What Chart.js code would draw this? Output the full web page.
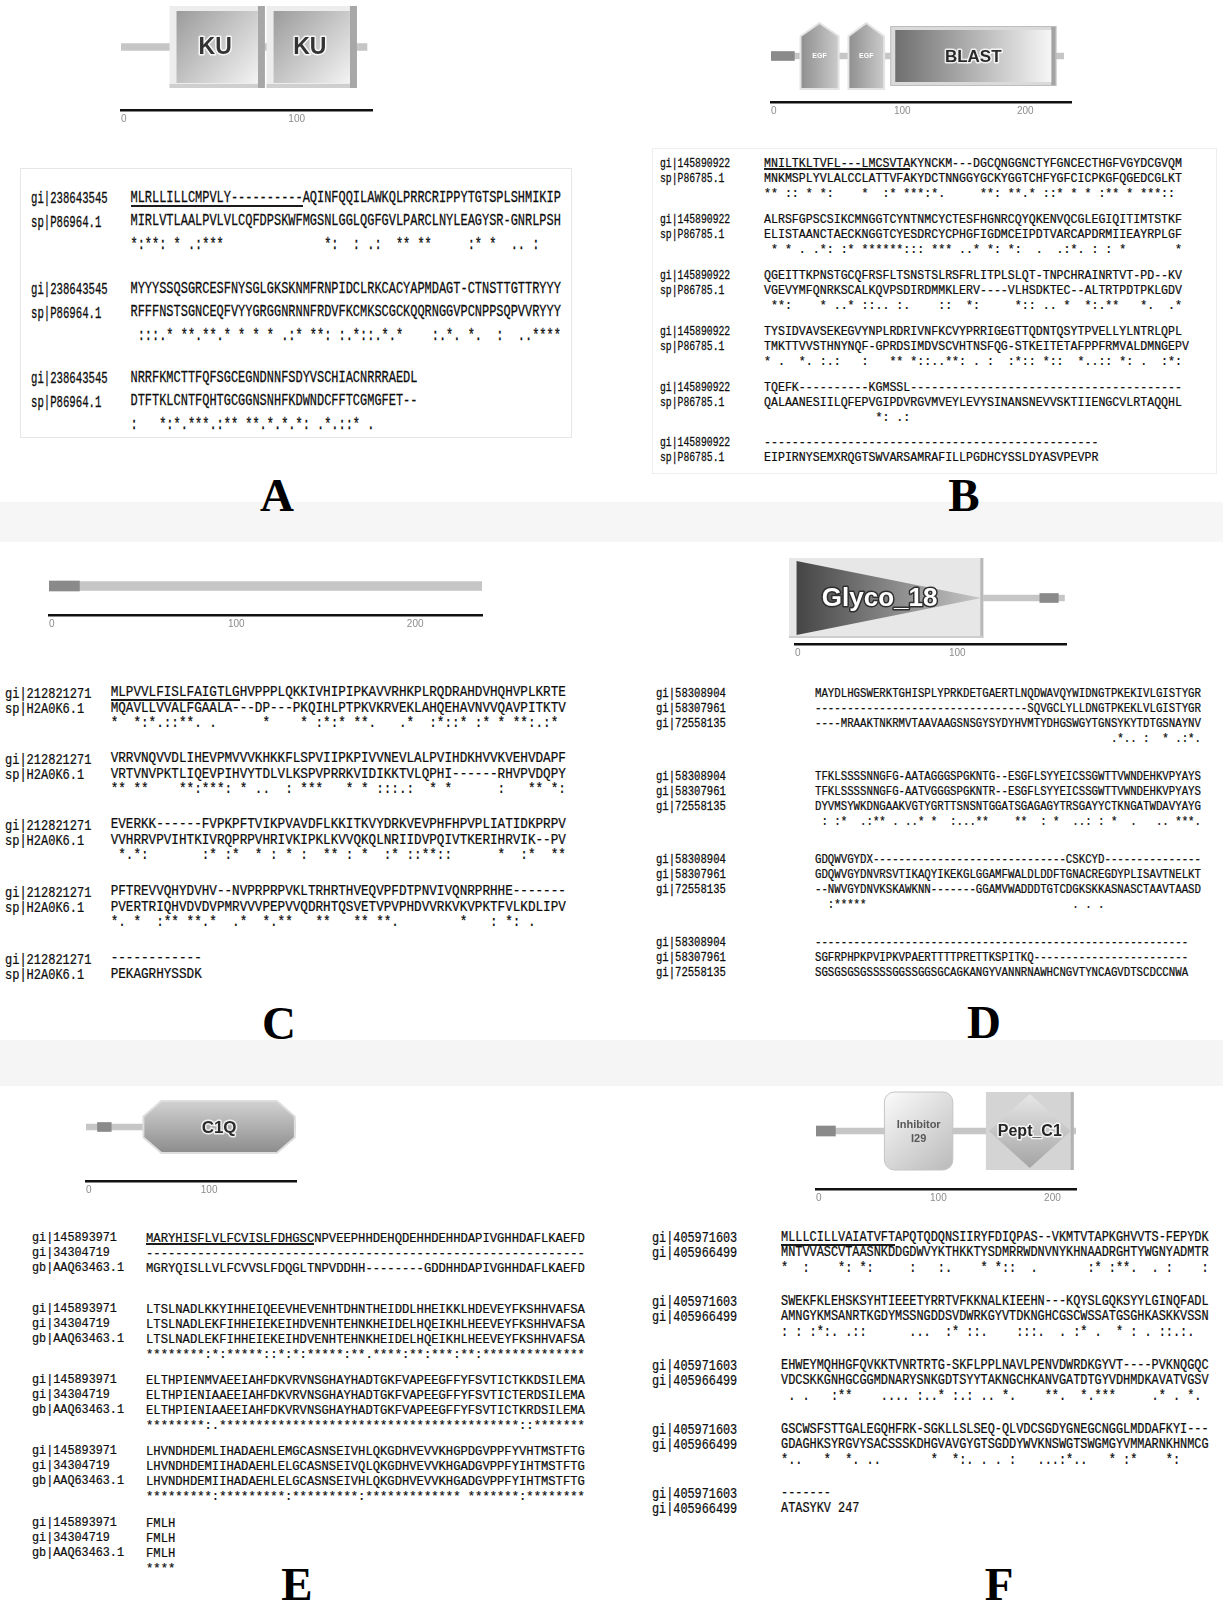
<!DOCTYPE html>
<html lang="en">
<head>
<meta charset="utf-8">
<title>Domain architectures and sequence alignments</title>
<script src="https://cdn.jsdelivr.net/npm/chart.js@4.4.1/dist/chart.umd.min.js"></script>
<style>
  html, body { margin: 0; padding: 0; background: #fff; }
  #page { position: relative; width: 1223px; height: 1608px; overflow: hidden; background: #fff; }
  .t { position: absolute; white-space: pre; font-family: "Liberation Mono", "DejaVu Sans Mono", monospace; color: #0c0c0c; -webkit-text-stroke: 0.2px #0c0c0c; }
  .ul { position: absolute; background: #1b1b1b; }
  .lab { position: absolute; font-family: "Liberation Serif", serif; font-weight: bold; font-size: 47px; line-height: 1; color: #000; transform: translate(-50%, -50%); }
  .bg { position: absolute; box-sizing: border-box; }
  canvas.arch { position: absolute; }
</style>
</head>
<body>
<div id="page"></div>
<script>
// ---------------- Domain architectures (residue coordinates) ----------------
const archIds = ['A', 'B', 'C', 'D', 'E', 'F'];
const archLengths = [147, 238, 242, 175, 183, 228];
const axisMaxima = [150, 244, 242, 176, 183, 228];
const scaleTicks = [0, 100, 200];
const darkSegments = [null, [0, 19], [0, 17], [159, 171], [10, 22], [0, 17]];
const domainsA = [['KU', 29, 86], ['KU', 87, 141]];
const domainsB = [['EGF', 24, 55], ['EGF', 63, 92], ['BLAST', 97, 232]];
const domainsC = [];
const domainsD = [['Glyco_18', 1, 121]];
const domainsE = [['C1Q', 50, 182]];
const domainsF = [['Inhibitor I29', 60, 120], ['Pept_C1', 149, 226]];
const archDomains = [domainsA, domainsB, domainsC, domainsD, domainsE, domainsF];

// ---------------- Alignments ----------------
const namesA = ['gi|238643545', 'sp|P86964.1'];
const blocksA = [
  ['MLRLLILLCMPVLY----------AQINFQQILAWKQLPRRCRIPPYTGTSPLSHMIKIP',
   'MIRLVTLAALPVLVLCQFDPSKWFMGSNLGGLQGFGVLPARCLNYLEAGYSR-GNRLPSH',
   '*:**: * .:***' + ' '.repeat(14) + '*:  : .:  ** **     :* *  .. :'],
  ['MYYYSSQSGRCESFNYSGLGKSKNMFRNPIDCLRKCACYAPMDAGT-CTNSTTGTTRYYY',
   'RFFFNSTSGNCEQFVYYGRGGNRNNFRDVFKCMKSCGCKQQRNGGVPCNPPSQPVVRYYY',
   ' :::.* **.' + '**.* * * *' + ' .:* **: :' + '.*::.*.*  ' + '  :.*. *. ' + ' :  ..****'],
  ['NRRFKMCTTFQFSGCEGNDNNFSDYVSCHIACNRRRAEDL',
   'DTFTKLCNTFQHTGCGGNSNHFKDWNDCFFTCGMGFET--',
   ':   *:*.**' + '*.:** **.*' + '.*.*: .*.:' + ':* .']
];

const namesB = ['gi|145890922', 'sp|P86785.1'];
const blocksB = [
  ['MNILTKLTVFL---LMCSVTAKYNCKM---DGCQNGGNCTYFGNCECTHGFVGYDCGVQM',
   'MNKMSPLYVLALCCLATTVFAKYDCTNNGGYGCKYGGTCHFYGFCICPKGFQGEDCGLKT',
   '** :: * *:' + '    *  :* ' + '***:*.    ' + ' **: **.* ' + '::* * * :*' + '* * ***::'],
  ['ALRSFGPSCSIKCMNGGTCYNTNMCYCTESFHGNRCQYQKENVQCGLEGIQITIMTSTKF',
   'ELISTAANCTAECKNGGTCYESDRCYCPHGFIGDMCEIPDTVARCAPDRMIIEAYRPLGF',
   ' * * . .*:' + ' :* ******' + '::: *** ..' + '* *: *:  .' + '  .:*. : :' + ' *       *'],
  ['QGEITTKPNSTGCQFRSFLTSNSTSLRSFRLITPLSLQT-TNPCHRAINRTVT-PD--KV',
   'VGEVYMFQNRKSCALKQVPSDIRDMMKLERV----VLHSDKTEC--ALTRTPDTPKLGDV',
   ' **:    * ' + '..* ::.. :' + '.    ::  *' + ':     *:: ' + '.. *  *:.*' + '*   *.  .*'],
  ['TYSIDVAVSEKEGVYNPLRDRIVNFKCVYPRRIGEGTTQDNTQSYTPVELLYLNTRLQPL',
   'TMKTTVVSTHNYNQF-GPRDSIMDVSCVHTNSFQG-STKEITETAFPPFRMVALDMNGEPV',
   '* .  *. :.' + ':   :   **' + ' *::..**: ' + '. :  :*:: ' + '*::  *..::' + ' *: .  :*:'],
  ['TQEFK' + '-'.repeat(10) + 'KGMSSL' + '-'.repeat(39),
   'QALAANESIILQFEPVGIPDVRGVMVEYLEVYSINANSNEVVSKTIIENGCVLRTAQQHL',
   ' '.repeat(16) + '*: .:'],
  ['-'.repeat(48),
   'EIPIRNYSEMXRQGTSWVARSAMRAFILLPGDHCYSSLDYASVPEVPR']
];

const namesC = ['gi|212821271', 'sp|H2A0K6.1'];
const blocksC = [
  ['MLPVVLFISLFAIGTLGHVPPPLQKKIVHIPIPKAVVRHKPLRQDRAHDVHQHVPLKRTE',
   'MQAVLLVVALFGAALA---DP---PKQIHLPTPKVKRVEKLAHQEHAVNVVQAVPITKTV',
   '*  *:*.::*' + '*. .      ' + '*    * :*:' + '* **.   .*' + '  :*::* :*' + ' * **:.:*'],
  ['VRRVNQVVDLIHEVPMVVVKHKKFLSPVIIPKPIVVNEVLALPVIHDKHVVKVEHVDAPF',
   'VRTVNVPKTLIQEVPIHVYTDLVLKSPVPRRKVIDIKKTVLQPHI------RHVPVDQPY',
   '** **    *' + '*:***: * .' + '.  : ***  ' + ' * * :::.:' + '  * *     ' + ' :   ** *:'],
  ['EVERKK------FVPKPFTVIKPVAVDFLKKITKVYDRKVEVPHFHPVPLIATIDKPRPV',
   'VVHRRVPVIHTKIVRQPRPVHRIVKIPKLKVVQKQLNRIIDVPQIVTKERIHRVIK--PV',
   ' *.*:     ' + '  :* :*  *' + ' : * :  **' + ' : *  :* :' + ':**::     ' + ' *  :*  **'],
  ['PFTREVVQHYDVHV--NVPRPRPVKLTRHRTHVEQVPFDTPNVIVQNRPRHHE-------',
   'PVERTRIQHVDVDVPMRVVVPEPVVQDRHTQSVETVPVPHDVVRKVKVPKTFVLKDLIPV',
   '*. *  :** ' + '**.*  .*  ' + '*.**   ** ' + '  ** **.  ' + '      *   ' + ': *: .'],
  ['-'.repeat(12),
   'PEKAGRHYSSDK']
];

const namesD = ['gi|58308904', 'gi|58307961', 'gi|72558135'];
const blocksD = [
  ['MAYDLHGSWERKTGHISPLYPRKDETGAERTLNQDWAVQYWIDNGTPKEKIVLGISTYGR',
   '-'.repeat(33) + 'SQVGCLYLLDNGTPKEKLVLGISTYGR',
   '----MRAAKTNKRMVTAAVAAGSNSGYSYDYHVMTYDHGSWGYTGNSYKYTDTGSNAYNV',
   ' '.repeat(46) + '.*.. :  * .:*.'],
  ['TFKLSSSSNNGFG-AATAGGGSPGKNTG--ESGFLSYYEICSSGWTTVWNDEHKVPYAYS',
   'TFKLSSSSNNGFG-AATVGGGSPGKNTR--ESGFLSYYEICSSGWTTVWNDEHKVPYAYS',
   'DYVMSYWKDNGAAKVGTYGRTTSNSNTGGATSGAGAGYTRSGAYYCTKNGATWDAVYAYG',
   ' : :*  .:*' + '* . ..* * ' + ' :...**   ' + ' **  : *  ' + '..: : *  .' + '   .. ***.'],
  ['GDQWVGYDX' + '-'.repeat(30) + 'CSKCYD' + '-'.repeat(15),
   'GDQWVGYDNVRSVTIKAQYIKEKGLGGAMFWALDLDDFTGNACREGDYPLISAVTNELKT',
   '--NWVGYDNVKSKAWKNN-------GGAMVWADDDTGTCDGKSKKASNASCTAAVTAASD',
   '  :*****' + ' '.repeat(32) + '. . .'],
  ['-'.repeat(58),
   'SGFRPHPKPVIPKVPAERTTTTPRETTKSPITKQ' + '-'.repeat(24),
   'SGSGSGSGSSSSGGSSGGSGCAGKANGYVANNRNAWHCNGVTYNCAGVDTSCDCCNWA']
];

const namesE = ['gi|145893971', 'gi|34304719', 'gb|AAQ63463.1'];
const blocksE = [
  ['MARYHISFLVLFCVISLFDHGSCNPVEEPHHDEHQDEHHDEHHDAPIVGHHDAFLKAEFD',
   '-'.repeat(60),
   'MGRYQISLLVLFCVVSLFDQGLTNPVDDHH--------GDDHHDAPIVGHHDAFLKAEFD',
   ''],
  ['LTSLNADLKKYIHHEIQEEVHEVENHTDHNTHEIDDLHHEIKKLHDEVEYFKSHHVAFSA',
   'LTSLNADLEKFIHHEIEKEIHDVENHTEHNKHEIDELHQEIKHLHEEVEYFKSHHVAFSA',
   'LTSLNADLEKFIHHEIEKEIHDVENHTEHNKHEIDELHQEIKHLHEEVEYFKSHHVAFSA',
   '********' + ':*:' + '*****' + '::' + '*:*:' + '*****' + ':' + '**' + '.' + '****' + ':' + '**' + ':' + '***' + ':' + '**' + ':' + '*'.repeat(14)],
  ['ELTHPIENMVAEEIAHFDKVRVNSGHAYHADTGKFVAPEEGFFYFSVTICTKKDSILEMA',
   'ELTHPIENIAAEEIAHFDKVRVNSGHAYHADTGKFVAPEEGFFYFSVTICTERDSILEMA',
   'ELTHPIENIAAEEIAHFDKVRVNSGHAYHADTGKFVAPEEGFFYFSVTICTKRDSILEMA',
   '********:.' + '*'.repeat(41) + '::' + '*'.repeat(7)],
  ['LHVNDHDEMLIHADAEHLEMGCASNSEIVHLQKGDHVEVVKHGPDGVPPFYVHTMSTFTG',
   'LHVNDHDEMIIHADAEHLELGCASNSEIVQLQKGDHVEVVKHGADGVPPFYIHTMSTFTG',
   'LHVNDHDEMIIHADAEHLELGCASNSEIVHLQKGDHVEVVKHGADGVPPFYIHTMSTFTG',
   '*********:' + '*********:' + '*********:' + '*************' + ' ' + '*******' + ':' + '********'],
  ['FMLH', 'FMLH', 'FMLH', '****']
];

const namesF = ['gi|405971603', 'gi|405966499'];
const blocksF = [
  ['MLLLCILLVAIATVFTAPQTQDQNSIIRYFDIQPAS--VKMTVTAPKGHVVTS-FEPYDK',
   'MNTVVASCVTAASNKDDGDWVYKTHKKTYSDMRRWDNVNYKHNAADRGHTYWGNYADMTR',
   '*  :    *:' + ' *:     : ' + '  :.    * ' + '*::  .    ' + '   :* :**.' + '  . :    :'],
  ['SWEKFKLEHSKSYHTIEEETYRRTVFKKNALKIEEHN---KQYSLGQKSYYLGINQFADL',
   'AMNGYKMSANRTKGDYMSSNGDDSVDWRKGYVTDKNGHCGSCWSSATGSGHKASKKVSSN',
   ': : :*:. .' + '::      ..' + '.  :* ::. ' + '   :::.  .' + ' :* .  * :' + ' . ::.:.'],
  ['EHWEYMQHHGFQVKKTVNRTRTG-SKFLPPLNAVLPENVDWRDKGYVT----PVKNQGQC',
   'VDCSKKGNHGCGGMDNARYSNKGDTSYYTAKNGCHKANVGATDTGYVDHMDKAVATVGSV',
   ' . .   :**' + '    .... :' + '..* :.: ..' + ' *.    **.' + '  *.***   ' + '  .* . *.'],
  ['GSCWSFSTTGALEGQHFRK-SGKLLSLSEQ-QLVDCSGDYGNEGCNGGLMDDAFKYI---',
   'GDAGHKSYRGVYSACSSSKDHGVAVGYGTSGDDYWVKNSWGTSWGMGYVMMARNKHNMCG',
   '*..   *  *' + '. ..      ' + ' *  *:. . ' + '. :   ...:' + '*..   * :*' + '    *:'],
  ['-'.repeat(7), 'ATASYKV 247']
];

const panelLetters = ['A', 'B', 'C', 'D', 'E', 'F'];

// ---------------- Layout (pixels) ----------------
const archLayout = [
  { x0: 121, ppa: 1.67, y0: 47,   yAxis: 110,  bbH: 7, segH: 10, domH: { KU: 82 } },
  { x0: 771, ppa: 1.23, y0: 56,   yAxis: 102,  bbH: 6, segH: 9,  domH: { EGF: 66, BLAST: 60 } },
  { x0: 49,  ppa: 1.79, y0: 586,  yAxis: 615,  bbH: 9, segH: 10, domH: {} },
  { x0: 795, ppa: 1.54, y0: 598,  yAxis: 644,  bbH: 6, segH: 9,  domH: { Glyco_18: 74 } },
  { x0: 86,  ppa: 1.15, y0: 1127, yAxis: 1181, bbH: 6, segH: 9,  domH: { C1Q: 52 } },
  { x0: 816, ppa: 1.14, y0: 1131, yAxis: 1189, bbH: 6, segH: 10, domH: { 'Inhibitor I29': 78, Pept_C1: 78 } }
];

const alnLayout = [
  { nameX: 31,  nameAdv: 6.4,  seqX: 130.5, adv: 7.18, capH: 11.0, rows: [0, 23.5, 47],    blocks: [198, 289, 378], underline: 24 },
  { nameX: 660, nameAdv: 5.85, seqX: 764,   adv: 6.97, capH: 8.4,  rows: [0, 15, 30],      blocks: [163, 219, 275, 331, 387, 442], underline: 21 },
  { nameX: 5,   nameAdv: 7.2,  seqX: 110.7, adv: 7.59, capH: 9.3,  rows: [0, 15.5, 31],    blocks: [693, 759, 825, 892, 959], underline: 17 },
  { nameX: 656, nameAdv: 6.35, seqX: 815,   adv: 6.44, capH: 8.8,  rows: [0, 15, 30, 45],  blocks: [693, 776, 859, 942], underline: 0 },
  { nameX: 32,  nameAdv: 7.08, seqX: 146,   adv: 7.32, capH: 8.6,  rows: [0, 15, 30, 45],  blocks: [1238, 1309, 1380, 1451, 1523], underline: 23 },
  { nameX: 652, nameAdv: 7.1,  seqX: 781,   adv: 7.13, capH: 9.2,  rows: [0, 15.5, 31],    blocks: [1238, 1302, 1366, 1430, 1494], underline: 16 }
];
const letterPos = [[277, 495], [964, 495], [279, 1023], [984, 1022], [297, 1584], [999, 1584]];

const page = document.getElementById('page');

// faint scan background panels
[
  { l: 0, t: 502, w: 1223, h: 40, bg: '#f6f6f6' },
  { l: 0, t: 1040, w: 1223, h: 46, bg: '#f5f5f5' },
  { l: 20, t: 168, w: 552, h: 270, border: '1px solid #e6e6e6' },
  { l: 652, t: 148, w: 565, h: 326, border: '1px solid #eeeeee' }
].forEach(b => {
  const d = document.createElement('div');
  d.className = 'bg';
  Object.assign(d.style, { left: b.l + 'px', top: b.t + 'px', width: b.w + 'px', height: b.h + 'px' });
  if (b.bg) d.style.background = b.bg;
  if (b.border) d.style.border = b.border;
  page.appendChild(d);
});

// ---------------- Alignment text ----------------
function addLine(str, x, yc, adv, capH) {
  const fs = adv / 0.6;                 // monospace advance is 0.6 em
  const k = capH / (0.659 * fs);        // stretch glyphs to the tall, narrow look
  const oy = 0.437 * fs;                // cap-centre offset from the line box top
  const d = document.createElement('div');
  d.className = 't';
  d.textContent = str;
  d.style.left = x + 'px';
  d.style.top = (yc - oy) + 'px';
  d.style.fontSize = fs.toFixed(3) + 'px';
  d.style.lineHeight = fs.toFixed(3) + 'px';
  d.style.transformOrigin = '0 ' + oy.toFixed(2) + 'px';
  d.style.transform = 'scaleY(' + k.toFixed(3) + ')';
  page.appendChild(d);
}

function addUnderline(x, yc, n, adv, capH) {
  const u = document.createElement('div');
  u.className = 'ul';
  u.style.left = x + 'px';
  u.style.top = (yc + capH / 2 + 1) + 'px';
  u.style.width = (n * adv) + 'px';
  u.style.height = '2px';
  page.appendChild(u);
}

function renderAlignment(L, names, blocks) {
  blocks.forEach((rows, b) => {
    rows.forEach((txt, r) => {
      if (!txt) return;
      const yc = L.blocks[b] + L.rows[r];
      if (r < names.length) addLine(names[r], L.nameX, yc, L.nameAdv, L.capH);
      addLine(txt, L.seqX, yc, L.adv, L.capH);
    });
  });
  if (L.underline) addUnderline(L.seqX, L.blocks[0], L.underline, L.adv, L.capH);
}

const allNames = [namesA, namesB, namesC, namesD, namesE, namesF];
const allBlocks = [blocksA, blocksB, blocksC, blocksD, blocksE, blocksF];
allBlocks.forEach((blocks, i) => renderAlignment(alnLayout[i], allNames[i], blocks));

panelLetters.forEach((ch, i) => {
  const d = document.createElement('div');
  d.className = 'lab';
  d.textContent = ch;
  d.style.left = letterPos[i][0] + 'px';
  d.style.top = letterPos[i][1] + 'px';
  page.appendChild(d);
});

// ---------------- Domain glyphs ----------------
function outlinedText(ctx, txt, x, y, font, fill, stroke, lw) {
  ctx.font = font;
  ctx.textAlign = 'center';
  ctx.textBaseline = 'middle';
  if (stroke) {
    ctx.lineJoin = 'round';
    ctx.lineWidth = lw;
    ctx.strokeStyle = stroke;
    ctx.strokeText(txt, x, y);
  }
  ctx.fillStyle = fill;
  ctx.fillText(txt, x, y);
}

function polygon(ctx, pts) {
  ctx.beginPath();
  pts.forEach((p, i) => (i ? ctx.lineTo(p[0], p[1]) : ctx.moveTo(p[0], p[1])));
  ctx.closePath();
}

function paintDomain(ctx, name, l, r, y, h) {
  const t = y - h / 2, b = y + h / 2, w = r - l, cx = (l + r) / 2;
  ctx.save();
  if (name === 'KU') {
    ctx.fillStyle = '#ededed'; ctx.fillRect(l, t, w, h);
    ctx.fillStyle = '#a7a7a7'; ctx.fillRect(r - 7, t, 7, h);
    ctx.fillStyle = '#cfcfcf'; ctx.fillRect(l, b - 4, w - 7, 4);
    const g = ctx.createLinearGradient(l + 7, t + 5, r - 7, b - 5);
    g.addColorStop(0, '#9b9b9b'); g.addColorStop(1, '#f3f3f3');
    ctx.fillStyle = g; ctx.fillRect(l + 7, t + 5, w - 14, h - 10);
    outlinedText(ctx, 'KU', cx - 2, y + 1, 'bold 23px "Liberation Sans"', '#333333', 'rgba(255,255,255,0.85)', 3);
  } else if (name === 'BLAST') {
    ctx.fillStyle = '#dadada'; ctx.fillRect(l, t, w, h);
    ctx.fillStyle = '#a3a3a3'; ctx.fillRect(r - 5, t, 5, h);
    ctx.strokeStyle = '#bdbdbd'; ctx.lineWidth = 1; ctx.strokeRect(l + 0.5, t + 0.5, w - 1, h - 1);
    const g = ctx.createLinearGradient(l + 5, 0, r - 5, 0);
    g.addColorStop(0, '#6f6f6f'); g.addColorStop(1, '#f6f6f6');
    ctx.fillStyle = g; ctx.fillRect(l + 5, t + 4, w - 10, h - 8);
    outlinedText(ctx, 'BLAST', cx, y + 1, 'bold 17px "Liberation Sans"', '#2a2a2a', 'rgba(255,255,255,0.8)', 3);
  } else if (name === 'EGF') {
    const sh = t + h * 0.2;
    polygon(ctx, [[cx, t], [r, sh], [r, b], [l, b], [l, sh]]);
    const g = ctx.createLinearGradient(l, 0, r, 0);
    g.addColorStop(0, '#8e8e8e'); g.addColorStop(1, '#cbcbcb');
    ctx.fillStyle = g; ctx.fill();
    ctx.strokeStyle = '#e4e4e4'; ctx.lineWidth = 2; ctx.stroke();
    outlinedText(ctx, 'EGF', cx, y, 'bold 7px "Liberation Sans"', '#ffffff', null, 0);
  } else if (name === 'Glyco_18') {
    ctx.fillStyle = '#e7e7e7'; ctx.fillRect(l - 8, t - 3, w + 10, h + 6);
    ctx.fillStyle = '#b9b9b9'; ctx.fillRect(r - 1, t - 3, 3, h + 6);
    ctx.fillStyle = '#cdcdcd'; ctx.fillRect(l - 8, b + 1, w + 10, 2);
    polygon(ctx, [[l, t], [r, y], [l, b]]);
    const g = ctx.createLinearGradient(l, 0, r, 0);
    g.addColorStop(0, '#454545'); g.addColorStop(1, '#c6c6c6');
    ctx.fillStyle = g; ctx.fill();
    outlinedText(ctx, 'Glyco_18', l + w * 0.45, y + 1, 'bold 26px "Liberation Sans"', '#ffffff', '#2e2e2e', 3);
  } else if (name === 'C1Q') {
    const c = Math.min(18, w * 0.13);
    polygon(ctx, [[l, y - h * 0.2], [l + c, t], [r - c, t], [r, y - h * 0.2], [r, y + h * 0.2], [r - c, b], [l + c, b], [l, y + h * 0.2]]);
    const g = ctx.createLinearGradient(0, t, 0, b);
    g.addColorStop(0, '#d2d2d2'); g.addColorStop(1, '#8c8c8c');
    ctx.fillStyle = g; ctx.fill();
    ctx.strokeStyle = '#dedede'; ctx.lineWidth = 2; ctx.stroke();
    outlinedText(ctx, 'C1Q', cx, y + 1, 'bold 17px "Liberation Sans"', '#2b2b2b', 'rgba(255,255,255,0.8)', 3);
  } else if (name === 'Inhibitor I29') {
    ctx.beginPath();
    ctx.roundRect(l, t, w, h, 10);
    const g = ctx.createLinearGradient(l, t, r, b);
    g.addColorStop(0, '#fbfbfb'); g.addColorStop(1, '#bababa');
    ctx.fillStyle = g; ctx.fill();
    ctx.strokeStyle = '#c4c4c4'; ctx.lineWidth = 1; ctx.stroke();
    outlinedText(ctx, 'Inhibitor', cx, y - 6, 'bold 11px "Liberation Sans"', '#585858', null, 0);
    outlinedText(ctx, 'I29', cx, y + 8, 'bold 11px "Liberation Sans"', '#585858', null, 0);
  } else if (name === 'Pept_C1') {
    ctx.fillStyle = '#d4d4d4'; ctx.fillRect(l, t, w, h);
    ctx.fillStyle = '#b3b3b3'; ctx.fillRect(r - 3, t, 3, h);
    polygon(ctx, [[cx, t + 2], [r - 3, y], [cx, b - 2], [l + 3, y]]);
    const g = ctx.createLinearGradient(0, t, 0, b);
    g.addColorStop(0, '#e9e9e9'); g.addColorStop(1, '#a2a2a2');
    ctx.fillStyle = g; ctx.fill();
    outlinedText(ctx, 'Pept_C1', cx, y + 1, 'bold 16px "Liberation Sans"', '#262626', 'rgba(255,255,255,0.8)', 3);
  }
  ctx.restore();
}

const domainPainter = {
  id: 'domainPainter',
  afterDatasetsDraw(chart) {
    const ctx = chart.ctx;
    chart.data.datasets.forEach((ds, di) => {
      if (!ds.domain) return;
      chart.getDatasetMeta(di).data.forEach(el => {
        const p = el.getProps(['x', 'base', 'y', 'height'], true);
        paintDomain(ctx, ds.domain, Math.min(p.x, p.base), Math.max(p.x, p.base), p.y, p.height);
      });
    });
  }
};

// ---------------- Architecture charts ----------------
const PL = 6, PR = 24, PB = 4;
function buildArch(i) {
  const L = archLayout[i];
  const W = Math.round(PL + axisMaxima[i] * L.ppa + PR);
  const areaH = 2 * (L.yAxis - L.y0);
  let H = Math.round(areaH + 16 + PB);
  const cv = document.createElement('canvas');
  cv.className = 'arch';
  cv.width = W; cv.height = H;
  cv.style.width = W + 'px'; cv.style.height = H + 'px';
  page.appendChild(cv);

  const datasets = [{
    label: 'protein', data: [[0, archLengths[i]]], barThickness: L.bbH,
    backgroundColor: '#c6c6c6', borderWidth: 0, grouped: false, order: 2
  }];
  if (darkSegments[i]) {
    datasets.push({
      label: 'segment', data: [darkSegments[i]], barThickness: L.segH,
      backgroundColor: '#8a8a8a', borderWidth: 0, grouped: false, order: 1
    });
  }
  archDomains[i].forEach(d => {
    datasets.push({
      label: d[0], domain: d[0], data: [[d[1], d[2]]], barThickness: L.domH[d[0]],
      backgroundColor: 'rgba(0,0,0,0)', borderWidth: 0, grouped: false, order: 0
    });
  });

  const chart = new Chart(cv, {
    type: 'bar',
    data: { labels: [archIds[i]], datasets },
    options: {
      indexAxis: 'y',
      responsive: false,
      maintainAspectRatio: false,
      animation: false,
      devicePixelRatio: 1,
      events: [],
      layout: { padding: { left: PL, right: PR, top: 0, bottom: PB } },
      plugins: { legend: { display: false }, tooltip: { enabled: false } },
      scales: {
        y: { display: false },
        x: {
          type: 'linear', min: 0, max: axisMaxima[i], position: 'bottom',
          grid: { display: false, drawTicks: false, tickLength: 0 },
          border: { display: true, color: '#111111', width: 2.5 },
          ticks: {
            stepSize: 100, align: 'start', padding: 3, color: '#8c8c8c',
            maxRotation: 0, autoSkip: false,
            font: { family: 'Liberation Sans', size: 10 }
          },
          afterBuildTicks: s => { s.ticks = s.ticks.filter(t => scaleTicks.includes(t.value)); }
        }
      }
    },
    plugins: [domainPainter]
  });

  const got = chart.chartArea.bottom - chart.chartArea.top;
  if (Math.abs(got - areaH) > 0.4) {
    H = Math.round(H + (areaH - got));
    cv.style.height = H + 'px';
    chart.resize(W, H);
  }
  cv.style.left = (L.x0 - chart.chartArea.left) + 'px';
  cv.style.top = (L.yAxis - chart.chartArea.bottom) + 'px';
}

archIds.forEach((_, i) => buildArch(i));
</script>
</body>
</html>
